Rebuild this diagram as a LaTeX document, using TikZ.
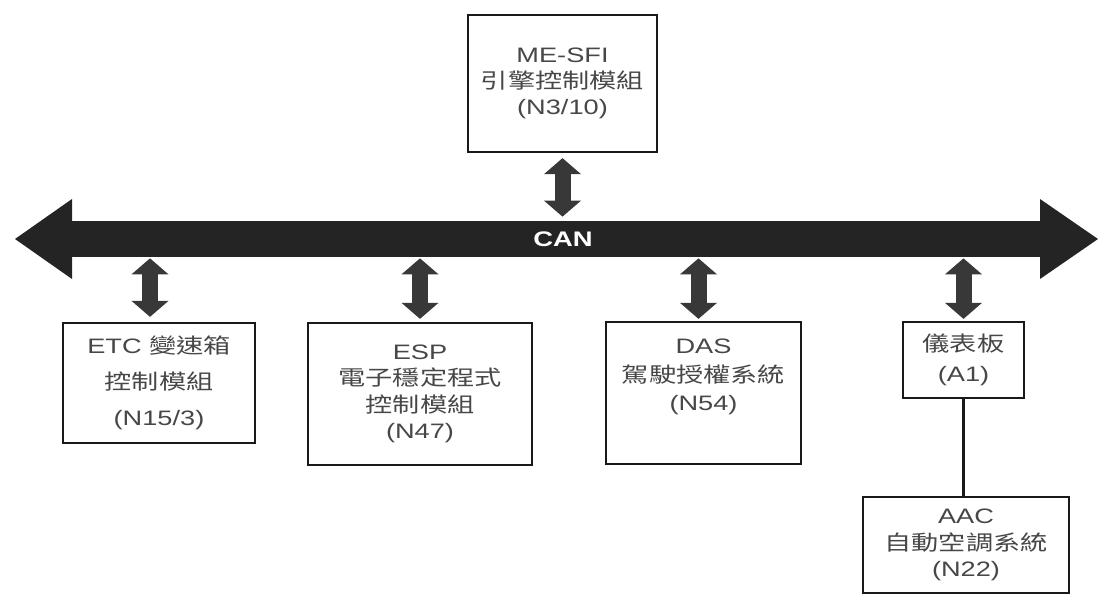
\documentclass[tikz,border=0pt]{standalone}
\usepackage{fontspec}
\setmainfont{Liberation Sans}[FakeStretch=1.3]
\newfontfamily\cjk{Noto Sans CJK TC}[FakeStretch=1.3]
\usetikzlibrary{arrows.meta}

\begin{document}
\begin{tikzpicture}[
		modul/.style={draw=black!90, line width=1.3pt, inner sep=0pt, align=center, text=black!72, font=\fontsize{11.9}{15}\selectfont},
		bus/.style={line width=0.72cm, draw=black!86, {Triangle[width=1.6cm,length=1.14cm,line width=0pt]}-{Triangle[width=1.6cm,length=1.16cm,line width=0pt]}},
		link/.style={line width=0.32cm, draw=black!78, {Triangle[width=0.74cm,length=0.32cm,line width=0pt]}-{Triangle[width=0.74cm,length=0.32cm,line width=0pt]}}
	]
		\useasboundingbox (0, 0) rectangle (22.1, -12.12);
		% CAN bus
		\coordinate (busL) at (0.30, -4.78);
		\coordinate (busR) at (21.96, -4.78);
		\draw[bus] (busL) -- (busR);
		\node[minimum width=19cm, minimum height=0.72cm, inner sep=0pt, text=white, font=\bfseries\fontsize{12}{14}\selectfont] (can) at (11.26, -4.78) {CAN};
		% modules
		\node[modul, minimum width=3.78cm, minimum height=2.74cm] (mesfi) at (11.25, -1.67) {ME-SFI\\{\cjk 引擎控制模組}\\(N3/10)};
		\node[modul, minimum width=3.84cm, minimum height=2.40cm] (etc) at (3.18, -7.66) {ETC {\cjk 變速箱}\\[5.4pt]{\cjk 控制模組}\\[5.4pt](N15/3)};
		\node[modul, minimum width=4.48cm, minimum height=2.84cm] (esp) at (8.40, -7.88) {ESP\\{\cjk 電子穩定程式}\\{\cjk 控制模組}\\(N47)};
		\node[modul, minimum width=3.90cm, minimum height=2.84cm] (das) at (14.07, -7.86) {DAS\\[1.4pt]{\cjk 駕駛授權系統}\\[1.4pt](N54)\\[0.2cm]};
		\node[modul, minimum width=2.42cm, minimum height=1.52cm] (a1) at (19.27, -7.20) {{\cjk 儀表板}\\[2pt](A1)};
		\node[modul, minimum width=4.12cm, minimum height=1.92cm] (aac) at (19.32, -10.90) {AAC\\{\cjk 自動空調系統}\\(N22)};
		% connections to the bus
		\draw[link] ([yshift=-0.1cm]mesfi.south) -- ([yshift=0.08cm]mesfi.south |- can.north);
		\draw[link] ([xshift=-0.18cm, yshift=0.1cm]etc.north) -- ([xshift=-0.18cm, yshift=-0.02cm]etc.north |- can.south);
		\draw[link] ([yshift=0.06cm]esp.north) -- ([yshift=-0.02cm]esp.north |- can.south);
		\draw[link] ([xshift=-0.1cm, yshift=0.04cm]das.north) -- ([xshift=-0.1cm, yshift=-0.02cm]das.north |- can.south);
		\draw[link] ([yshift=0.04cm]a1.north) -- ([yshift=-0.02cm]a1.north |- can.south);
		\draw[line width=1.3pt, black!90] (a1.south) -- (a1.south |- aac.north);
\end{tikzpicture}
\end{document}
